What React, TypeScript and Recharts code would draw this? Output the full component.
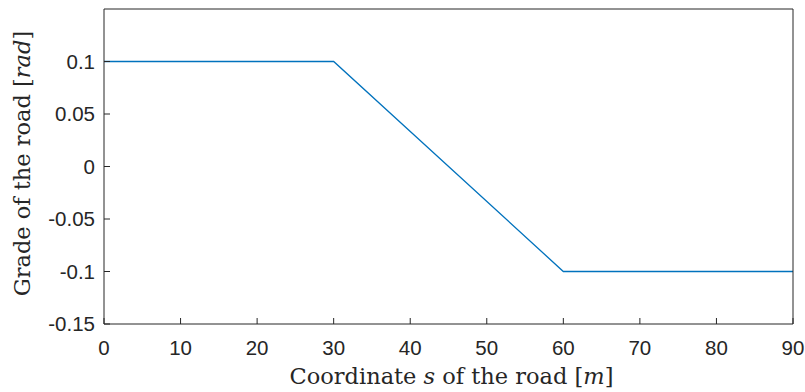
import React from 'react';
import { LineChart, Line, XAxis, YAxis, Label } from 'recharts';

// road profile: grade vs coordinate s
const positions = [0, 30, 60, 90];
const grades = [0.1, 0.1, -0.1, -0.1];
const xTicks = [0, 10, 20, 30, 40, 50, 60, 70, 80, 90];
const yTicks = [-0.15, -0.1, -0.05, 0, 0.05, 0.1];

const data = positions.map((s, i) => ({ s, grade: grades[i] }));

const INK = '#262626';
const TICK_FONT = '"Liberation Sans", Arial, sans-serif';
const TITLE_FONT = '"DejaVu Serif", serif';

// tickSize -6 with tickMargin 6 puts the tick anchor back on the axis line
const BottomTick = (props: any) => {
    const { x, y, payload } = props;
    return (
        <text x={x} y={y + 31} textAnchor="middle" fontSize={20.5} fontFamily={TICK_FONT} fill={INK}>
            {payload.value}
        </text>
    );
};

const LeftTick = (props: any) => {
    const { x, y, payload } = props;
    return (
        <text x={x - 9} y={y + 7} textAnchor="end" fontSize={20.5} fontFamily={TICK_FONT} fill={INK}>
            {String(payload.value)}
        </text>
    );
};

const XTitle = (props: any) => {
    const vb = props.viewBox;
    return (
        <text x={vb.x + vb.width / 2 + 3} y={vb.y + 60} textAnchor="middle" fontSize={22.5} fontFamily={TITLE_FONT} fill={INK}>
            Coordinate <tspan fontStyle="italic">s</tspan> of the road [<tspan fontStyle="italic">m</tspan>]
        </text>
    );
};

const YTitle = (props: any) => {
    const vb = props.viewBox;
    const cy = vb.y + vb.height / 2 - 3;
    return (
        <text x={30} y={cy} transform={`rotate(-90, 30, ${cy})`} textAnchor="middle" fontSize={22.5} fontFamily={TITLE_FONT} fill={INK}>
            Grade of the road [<tspan fontStyle="italic">rad</tspan>]
        </text>
    );
};

const axisStyle = { stroke: INK, strokeWidth: 1 };

export default function App() {
    return (
        <div style={{ position: 'absolute', left: 0, top: 0, width: 805, height: 392, background: '#fff' }}>
            <LineChart width={805} height={392} data={data} margin={{ top: 0, right: 0, left: 0, bottom: 0 }}>
                <XAxis
                    dataKey="s"
                    type="number"
                    domain={[0, 90]}
                    ticks={xTicks}
                    height={68}
                    axisLine={axisStyle}
                    tickLine={axisStyle}
                    tickSize={-6}
                    tickMargin={6}
                    tick={BottomTick}
                    interval={0}
                >
                    <Label content={XTitle} />
                </XAxis>
                <XAxis
                    xAxisId="top"
                    orientation="top"
                    dataKey="s"
                    type="number"
                    domain={[0, 90]}
                    ticks={xTicks}
                    height={9}
                    axisLine={axisStyle}
                    tickLine={axisStyle}
                    tickSize={-6}
                    tick={false}
                    interval={0}
                    allowDataOverflow
                />
                <YAxis
                    type="number"
                    domain={[-0.15, 0.15]}
                    ticks={yTicks}
                    width={104}
                    axisLine={axisStyle}
                    tickLine={axisStyle}
                    tickSize={-6}
                    tickMargin={6}
                    tick={LeftTick}
                    interval={0}
                    allowDataOverflow
                >
                    <Label content={YTitle} />
                </YAxis>
                <YAxis
                    yAxisId="right"
                    orientation="right"
                    type="number"
                    domain={[-0.15, 0.15]}
                    ticks={yTicks}
                    width={12}
                    axisLine={axisStyle}
                    tickLine={axisStyle}
                    tickSize={-6}
                    tick={false}
                    interval={0}
                    allowDataOverflow
                />
                <Line
                    type="linear"
                    dataKey="grade"
                    stroke="#0072BD"
                    strokeWidth={1.3}
                    dot={false}
                    activeDot={false}
                    isAnimationActive={false}
                />
            </LineChart>
        </div>
    );
}
